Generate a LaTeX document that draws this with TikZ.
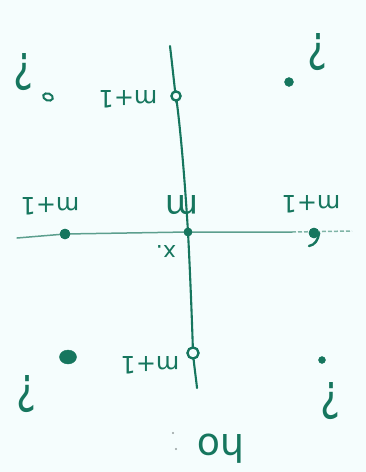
\documentclass[tikz,border=0pt]{standalone}
\usepackage{fontspec}
\setmainfont{DejaVu Sans}
\usetikzlibrary{shapes.geometric}
\definecolor{ink}{RGB}{22,118,94}
\definecolor{paper}{RGB}{245,253,253}
\definecolor{smudge}{RGB}{150,160,160}
\begin{document}
\begin{tikzpicture}[x=1pt,y=-1pt,
  axis/.style={draw=ink,line width=2.1pt,line cap=round},
  faint/.style={draw=ink!55,line width=1.5pt,dashed,dash pattern=on 4pt off 2pt},
  lbl/.style={text=ink,inner sep=0pt,font=\fontsize{24}{24}\selectfont,rotate=180},
  qm/.style={text=ink,inner sep=0pt,font=\fontsize{50}{50}\selectfont,rotate=180,xscale=0.75},
  dotf/.style={circle,fill=ink,draw=ink,inner sep=0pt},
  ring/.style={circle,draw=ink,line width=2.2pt,fill=paper,inner sep=0pt}]
\fill[paper] (0,0) rectangle (366,472);
\useasboundingbox (0,0) rectangle (366,472);
% axes
\coordinate (vtop) at (170,46);
\coordinate (vbot) at (197,388);
\coordinate (hl) at (17,238);
\coordinate (hm) at (292,232);
\coordinate (hr) at (352,231);
\node[ring,minimum size=9pt] (t) at (176,96) {};
\node[dotf,minimum size=8pt] (c) at (188,232) {};
\node[dotf,minimum size=10pt] (l) at (65,234) {};
\node[ring,minimum size=11pt] (b) at (193,353) {};
\node[dotf,minimum size=10pt] (r) at (314,233) {};
\draw[axis] (vtop) .. controls (174,80) and (178,120) .. (t.center)
  .. controls (182,140) and (186,200) .. (c.center)
  .. controls (190,270) and (192,320) .. (b.center)
  .. controls (194,365) and (196,378) .. (vbot);
\draw[axis,draw=ink!70,line width=1.5pt] (hl) -- (l.center) -- (c.center) -- (hm);
\draw[faint] (hm) -- (hr);
% redraw points on top
\node[ring,minimum size=9pt] at (t) {};
\node[ring,minimum size=11pt] at (b) {};
\node[dotf,minimum size=8pt] at (c) {};
\node[dotf,minimum size=10pt] at (l) {};
\node[dotf,minimum size=10pt] at (r) {};
\draw[ink,line width=2.4pt,line cap=round] (r.east) .. controls (318,240) and (315,245) .. (309,246);
% corner points
\node[ellipse,draw=ink,line width=2pt,minimum width=10pt,minimum height=7pt,inner sep=0pt,rotate=-20] (p1) at (48,97) {};
\node[dotf,minimum size=9pt] (p2) at (289,82) {};
\node[dotf,minimum width=17pt,minimum height=14pt,ellipse] (p3) at (68,357) {};
\node[dotf,minimum size=7pt] (p4) at (322,360) {};
% labels
\node[lbl] (lt) at (128,99) {m+1};
\node[lbl] (ll) at (50,206) {m+1};
\node[lbl] (lr) at (311,204) {m+1};
\node[lbl] (lb) at (150,365) {m+1};
\node[lbl,font=\fontsize{34}{34}\selectfont] (lc) at (182,205) {m};
\node[lbl,font=\fontsize{22}{22}\selectfont] (lx) at (166,252) {x.};
\node[qm] (q1) at (24,72) {?};
\node[qm] (q2) at (318,52) {?};
\node[qm] (q3) at (27,394) {?};
\node[qm] (q4) at (331,401) {?};
\node[lbl,font=\fontsize{38}{38}\selectfont] (ho) at (221,449) {ho};
% smudges
\fill[smudge] (173,433) circle (1.2pt);
\fill[smudge] (176,449) circle (1.2pt);
\end{tikzpicture}
\end{document}
